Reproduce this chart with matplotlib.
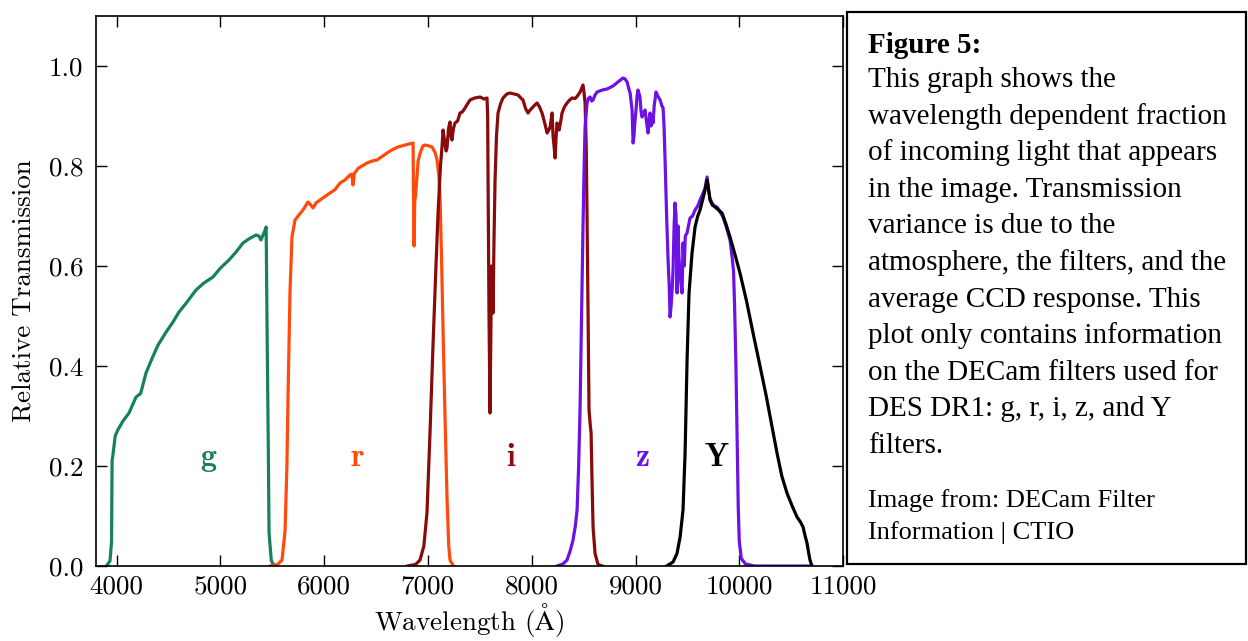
import matplotlib
matplotlib.use("Agg")
import matplotlib.pyplot as plt
from matplotlib.patches import Rectangle

plt.rcParams['font.family'] = 'serif'
plt.rcParams['font.serif'] = ['cmr10']
plt.rcParams['mathtext.fontset'] = 'cm'
plt.rcParams['axes.formatter.use_mathtext'] = True

# ---------------- data ----------------
g_wl = [3900, 3935, 3950, 3955, 3965, 3985, 4010, 4060, 4118, 4186, 4230, 4282, 4340, 4398,
        4470, 4542, 4600, 4670, 4764, 4840, 4927, 5000, 5082, 5150, 5217, 5280, 5342, 5370,
        5390, 5410, 5430, 5440, 5450, 5460, 5468, 5490, 5520]
g_tr = [0.0, 0.01, 0.05, 0.21, 0.225, 0.26, 0.272, 0.29, 0.306, 0.338, 0.345, 0.386, 0.415, 0.442,
        0.466, 0.488, 0.508, 0.526, 0.552, 0.566, 0.578, 0.596, 0.612, 0.628, 0.646, 0.655, 0.662, 0.660,
        0.652, 0.662, 0.672, 0.678, 0.45, 0.25, 0.066, 0.01, 0.0]

r_wl = [5480, 5550, 5593, 5622, 5640, 5651, 5670, 5689, 5718, 5760, 5795, 5843, 5870, 5892, 5920,
        5959, 6000, 6055, 6100, 6152, 6200, 6248, 6265, 6277, 6290, 6330, 6380, 6412, 6460, 6508,
        6550, 6605, 6650, 6711, 6780, 6856, 6862, 6866, 6872, 6880, 6905, 6923, 6950, 6971, 7010,
        7039, 7070, 7087, 7105, 7116, 7130, 7145, 7164, 7183, 7200, 7212, 7245]
r_tr = [0.0, 0.003, 0.012, 0.07, 0.2, 0.34, 0.55, 0.658, 0.692, 0.703, 0.712, 0.728, 0.722, 0.716, 0.726,
        0.732, 0.738, 0.746, 0.752, 0.766, 0.772, 0.782, 0.784, 0.762, 0.785, 0.796, 0.802, 0.806, 0.810, 0.812,
        0.818, 0.826, 0.832, 0.838, 0.842, 0.846, 0.70, 0.64, 0.73, 0.74, 0.81, 0.825, 0.840, 0.842, 0.840,
        0.838, 0.826, 0.812, 0.78, 0.738, 0.62, 0.472, 0.30, 0.138, 0.04, 0.012, 0.0]

i_wl = [6800, 6880, 6923, 6960, 6990, 7020, 7048, 7075, 7097, 7120, 7135, 7145, 7160, 7175, 7183,
        7198, 7212, 7222, 7231, 7245, 7260, 7285, 7309, 7330, 7357, 7380, 7405, 7450, 7502, 7540,
        7569, 7575, 7579, 7588, 7598, 7605, 7612, 7617, 7622, 7627, 7636, 7646, 7660, 7675, 7700,
        7723, 7760, 7790, 7830, 7868, 7900, 7916, 7940, 7964, 7985, 8003, 8030, 8051, 8075, 8099,
        8125, 8148, 8165, 8177, 8196, 8206, 8215, 8225, 8235, 8244, 8255, 8264, 8280, 8292, 8315,
        8340, 8365, 8389, 8418, 8440, 8466, 8494, 8505, 8514, 8525, 8533, 8543, 8552, 8565, 8572,
        8580, 8591, 8610, 8639, 8680]
i_tr = [0.0, 0.003, 0.012, 0.04, 0.106, 0.27, 0.44, 0.59, 0.706, 0.80, 0.838, 0.872, 0.85, 0.83, 0.836,
        0.875, 0.888, 0.86, 0.852, 0.875, 0.886, 0.890, 0.906, 0.908, 0.916, 0.924, 0.932, 0.936, 0.938, 0.934,
        0.936, 0.90, 0.77, 0.50, 0.306, 0.45, 0.60, 0.598, 0.56, 0.506, 0.65, 0.77, 0.86, 0.906, 0.925,
        0.936, 0.944, 0.946, 0.944, 0.942, 0.935, 0.932, 0.915, 0.906, 0.912, 0.916, 0.922, 0.926, 0.918, 0.906,
        0.886, 0.866, 0.872, 0.878, 0.906, 0.858, 0.84, 0.816, 0.86, 0.886, 0.876, 0.872, 0.89, 0.906, 0.918,
        0.926, 0.932, 0.936, 0.935, 0.94, 0.948, 0.962, 0.945, 0.926, 0.84, 0.70, 0.50, 0.312, 0.28, 0.266,
        0.18, 0.078, 0.025, 0.003, 0.0]

z_wl = [8244, 8300, 8340, 8370, 8398, 8420, 8437, 8452, 8466, 8480, 8494, 8505, 8514, 8533, 8545,
        8562, 8578, 8591, 8610, 8630, 8680, 8726, 8784, 8830, 8880, 8900, 8919, 8935, 8948, 8967,
        8977, 8985, 8995, 9005, 9015, 9024, 9034, 9043, 9053, 9063, 9075, 9092, 9105, 9121, 9130,
        9140, 9150, 9160, 9169, 9180, 9198, 9215, 9237, 9255, 9266, 9275, 9285, 9300, 9314, 9325,
        9333, 9343, 9355, 9362, 9372, 9381, 9391, 9401, 9410, 9418, 9430, 9449, 9458, 9470, 9480,
        9497, 9510, 9526, 9550, 9574, 9600, 9622, 9650, 9670, 9690, 9705, 9718, 9738, 9760, 9786,
        9810, 9844, 9880, 9911, 9930, 9945, 9955, 9968, 9980, 9990, 10000, 10020, 10060, 10150, 10700]
z_tr = [0.0, 0.004, 0.012, 0.03, 0.052, 0.08, 0.112, 0.2, 0.318, 0.5, 0.678, 0.8, 0.878, 0.926, 0.935,
        0.938, 0.93, 0.932, 0.942, 0.948, 0.952, 0.954, 0.960, 0.968, 0.976, 0.974, 0.968, 0.955, 0.946, 0.912,
        0.846, 0.86, 0.89, 0.912, 0.94, 0.952, 0.945, 0.938, 0.91, 0.898, 0.905, 0.912, 0.89, 0.866, 0.89,
        0.906, 0.88, 0.90, 0.886, 0.92, 0.948, 0.94, 0.932, 0.92, 0.916, 0.88, 0.812, 0.70, 0.612, 0.56,
        0.498, 0.52, 0.56, 0.592, 0.68, 0.726, 0.70, 0.546, 0.68, 0.62, 0.58, 0.546, 0.646, 0.60, 0.66,
        0.666, 0.68, 0.696, 0.70, 0.712, 0.72, 0.732, 0.745, 0.755, 0.778, 0.75, 0.735, 0.726, 0.72, 0.718,
        0.71, 0.698, 0.675, 0.652, 0.62, 0.59, 0.52, 0.40, 0.25, 0.12, 0.05, 0.015, 0.004, 0.0, 0.0]

Y_wl = [9300, 9362, 9400, 9430, 9458, 9478, 9497, 9516, 9545, 9574, 9600, 9622, 9650, 9670, 9690,
        9700, 9718, 9740, 9767, 9800, 9834, 9870, 9911, 9960, 10007, 10070, 10133, 10200, 10262, 10310,
        10364, 10410, 10460, 10510, 10557, 10590, 10615, 10635, 10653, 10670, 10682, 10700]
Y_tr = [0.0, 0.008, 0.025, 0.058, 0.112, 0.226, 0.412, 0.546, 0.626, 0.678, 0.70, 0.712, 0.735, 0.752, 0.772,
        0.76, 0.732, 0.722, 0.718, 0.712, 0.706, 0.685, 0.658, 0.622, 0.586, 0.53, 0.466, 0.40, 0.338, 0.285,
        0.226, 0.18, 0.146, 0.12, 0.098, 0.088, 0.078, 0.06, 0.046, 0.025, 0.012, 0.0]

band_names = ['g', 'r', 'i', 'z', 'Y']
band_label_x = [4885, 6320, 7800, 9065, 9785]
band_label_y = [0.2, 0.2, 0.2, 0.2, 0.2]
band_colors = ['#17805c', '#ff4a0c', '#880a0a', '#6c12e6', '#000000']

x_ticks = [4000, 5000, 6000, 7000, 8000, 9000, 10000, 11000]
y_ticks = [0.0, 0.2, 0.4, 0.6, 0.8, 1.0]

caption_lines = ["This graph shows the",
                 "wavelength dependent fraction",
                 "of incoming light that appears",
                 "in the image. Transmission",
                 "variance is due to the",
                 "atmosphere, the filters, and the",
                 "average CCD response. This",
                 "plot only contains information",
                 "on the DECam filters used for",
                 "DES DR1: g, r, i, z, and Y",
                 "filters."]
source_lines = ["Image from: DECam Filter", "Information | CTIO"]

# ---------------- figure ----------------
W, H = 1248, 641
fig = plt.figure(figsize=(W / 100, H / 100), dpi=100)
ax = fig.add_axes([96 / W, 1 - 566 / H, (843 - 96) / W, (566 - 16) / H])

series = [(g_wl, g_tr), (r_wl, r_tr), (i_wl, i_tr), (z_wl, z_tr), (Y_wl, Y_tr)]
for (wl, tr), c in zip(series, band_colors):
    ax.plot(wl, tr, color=c, lw=2.3, solid_joinstyle='round')

for name, lx, ly, c in zip(band_names, band_label_x, band_label_y, band_colors):
    ax.text(lx, ly, r'$\mathbf{%s}$' % name, color=c, fontsize=23,
            ha='center', va='baseline')

ax.set_xlim(3800, 11000)
ax.set_ylim(0, 1.1)
ax.set_xticks(x_ticks)
ax.set_yticks(y_ticks)
ax.set_xticklabels([str(t) for t in x_ticks])
ax.set_yticklabels(['%.1f' % t for t in y_ticks])
ax.tick_params(direction='in', length=8, width=1.0, top=True, right=True,
               labelsize=19.5, pad=9)
ax.tick_params(axis='x', pad=6)
for s in ax.spines.values():
    s.set_linewidth(1.2)
ax.set_xlabel(r'Wavelength ($\mathrm{\AA}$)', fontsize=19.5, labelpad=2)
ax.set_ylabel('Relative Transmission', fontsize=19.5, labelpad=9)

# caption box
rect = Rectangle((847 / W, 1 - 564 / H), (1246 - 847) / W, (564 - 12) / H,
                 transform=fig.transFigure, fill=False, edgecolor='black', lw=1.6)
fig.patches.append(rect)

tx = 868 / W
fig.text(tx, 1 - 53 / H, "Figure 5:", fontfamily='Liberation Serif', fontweight='bold',
         fontsize=21, va='baseline', ha='left')
base = 87
for k, line in enumerate(caption_lines):
    fig.text(tx, 1 - (base + k * 36.6) / H, line, fontfamily='Liberation Serif',
             fontsize=21, va='baseline', ha='left')
for k, line in enumerate(source_lines):
    fig.text(tx, 1 - (507 + k * 32) / H, line, fontfamily='Liberation Serif',
             fontsize=19, va='baseline', ha='left')

fig.savefig('out.png', dpi=100)
